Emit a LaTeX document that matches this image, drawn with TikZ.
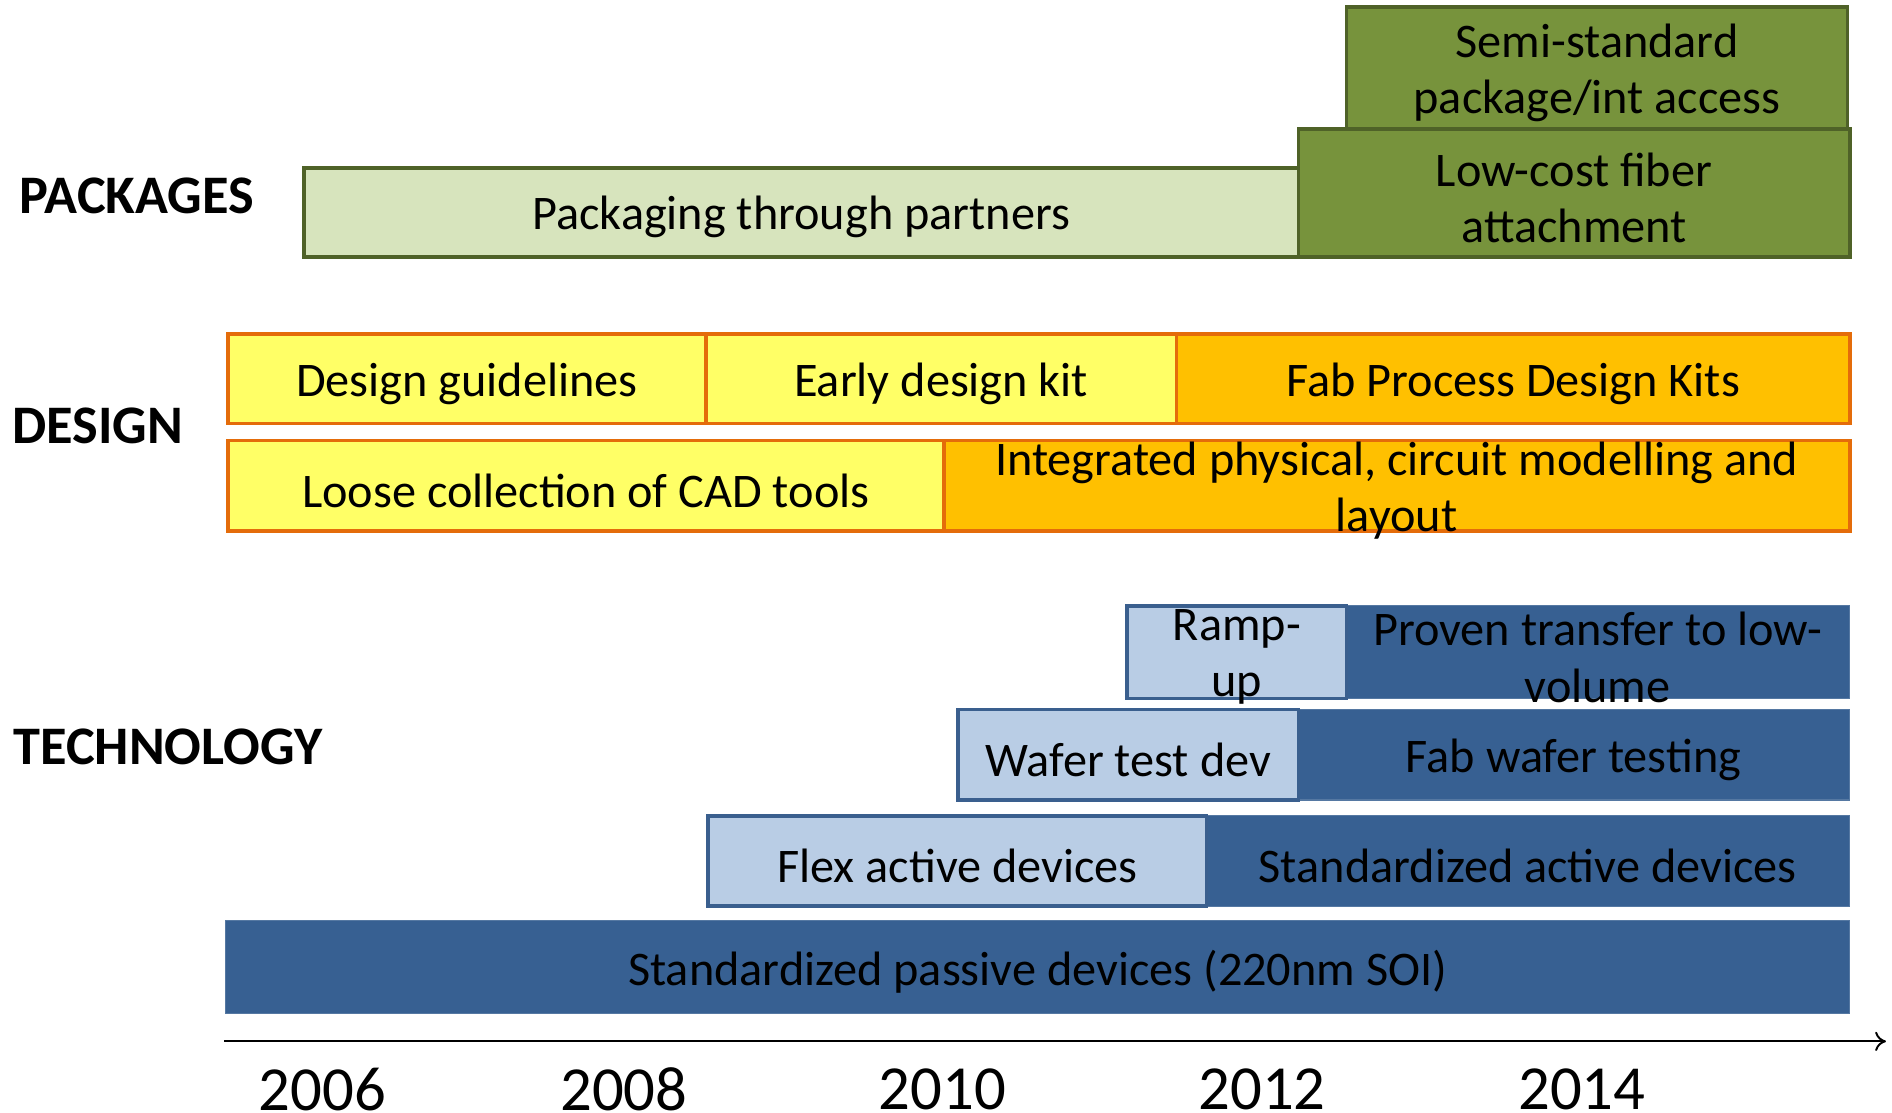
\documentclass[tikz,border=0pt]{standalone}
\usepackage{fontspec}
\setmainfont{Carlito}
\usetikzlibrary{arrows.meta}
\definecolor{pkgL}{HTML}{D7E4BD}
\definecolor{pkgD}{HTML}{77933C}
\definecolor{pkgB}{HTML}{4F6228}
\definecolor{dsY}{HTML}{FFFF66}
\definecolor{dsO}{HTML}{FFC000}
\definecolor{dsB}{HTML}{E46C0A}
\definecolor{tcD}{HTML}{376092}
\definecolor{tcL}{HTML}{B9CDE5}
\definecolor{tcB}{HTML}{3A5F8E}
\newcommand\tlbar[7]{\path[#2] (#3,#4) rectangle (#5,#6); \node[bartext] (#1) at ({(#3+#5)/2},{(#4+#6)/2}) {#7};}
\begin{document}
\begin{tikzpicture}[x=1pt,y=-1pt,
  bartext/.style={inner sep=0pt, align=center, yshift=-4pt, font=\fontsize{40}{47}\selectfont},
  rowlabel/.style={anchor=west, inner sep=0pt, font=\fontsize{45}{50}\selectfont\bfseries},
  yearlabel/.style={inner sep=0pt, font=\fontsize{52}{60}\selectfont},
  pkglight/.style={fill=pkgL, draw=pkgB, line width=3pt},
  pkgdark/.style={fill=pkgD, draw=pkgB, line width=3pt},
  dsyellow/.style={fill=dsY, draw=dsB, line width=3.2pt},
  dsorange/.style={fill=dsO, draw=dsB, line width=3.2pt},
  tcdark/.style={fill=tcD, draw=tcD!85!white, line width=1pt},
  tclight/.style={fill=tcL, draw=tcB, line width=3pt}]
\useasboundingbox (0,0) rectangle (1568,922);
% row labels
\node[rowlabel] (lpk) at (16,162) {PACKAGES};
\node[rowlabel] (lds) at (10,353) {DESIGN};
\node[rowlabel] (ltc) at (11,619) {TECHNOLOGY};
% packages
\tlbar{pthp}{pkglight}{252}{139}{1076}{213}{Packaging through partners}
\tlbar{semi}{pkgdark}{1116}{6}{1531}{107}{Semi-standard\\package/int access}
\tlbar{fiber}{pkgdark}{1076}{107}{1533}{213}{Low-cost fiber\\attachment}
% design
\tlbar{dguide}{dsyellow}{189}{277}{585}{351}{Design guidelines}
\tlbar{edk}{dsyellow}{585}{277}{975}{351}{Early design kit}
\tlbar{pdk}{dsorange}{975}{277}{1533}{351}{Fab Process Design Kits}
\tlbar{cad}{dsyellow}{189}{365}{782}{440}{Loose collection of CAD tools}
\tlbar{integ}{dsorange}{782}{365}{1533}{440}{Integrated physical, circuit modelling and\\layout}
% technology
\tlbar{prov}{tcdark}{934}{502}{1533}{579}{}
\tlbar{ramp}{tclight}{934}{502}{1116}{579}{Ramp-\\up}
\node[bartext] (provt) at (1324,541) {Proven transfer to low-\\volume};
\tlbar{fwt}{tcdark}{794}{588}{1533}{663}{}
\tlbar{wtd}{tclight}{794}{588}{1076}{663}{Wafer test dev}
\node[bartext] (fwtt) at (1304,626) {Fab wafer testing};
\tlbar{sad}{tcdark}{587}{676}{1533}{751}{}
\tlbar{fad}{tclight}{587}{676}{1000}{751}{Flex active devices}
\node[bartext] (sadt) at (1266,714) {Standardized active devices};
\tlbar{spd}{tcdark}{187}{763}{1533}{840}{Standardized passive devices (220nm SOI)}
% axis
\coordinate (ax0) at (186,863);
\coordinate (ax1) at (1563,863);
\draw[line width=1.6pt, -{To[length=9pt,width=16pt]}] (ax0) -- (ax1);
\node[yearlabel] (y06) at (267,903) {2006};
\node[yearlabel] (y08) at (517,903) {2008};
\node[yearlabel] (y10) at (781,903) {2010};
\node[yearlabel] (y12) at (1046,903) {2012};
\node[yearlabel] (y14) at (1311,903) {2014};
\end{tikzpicture}
\end{document}
